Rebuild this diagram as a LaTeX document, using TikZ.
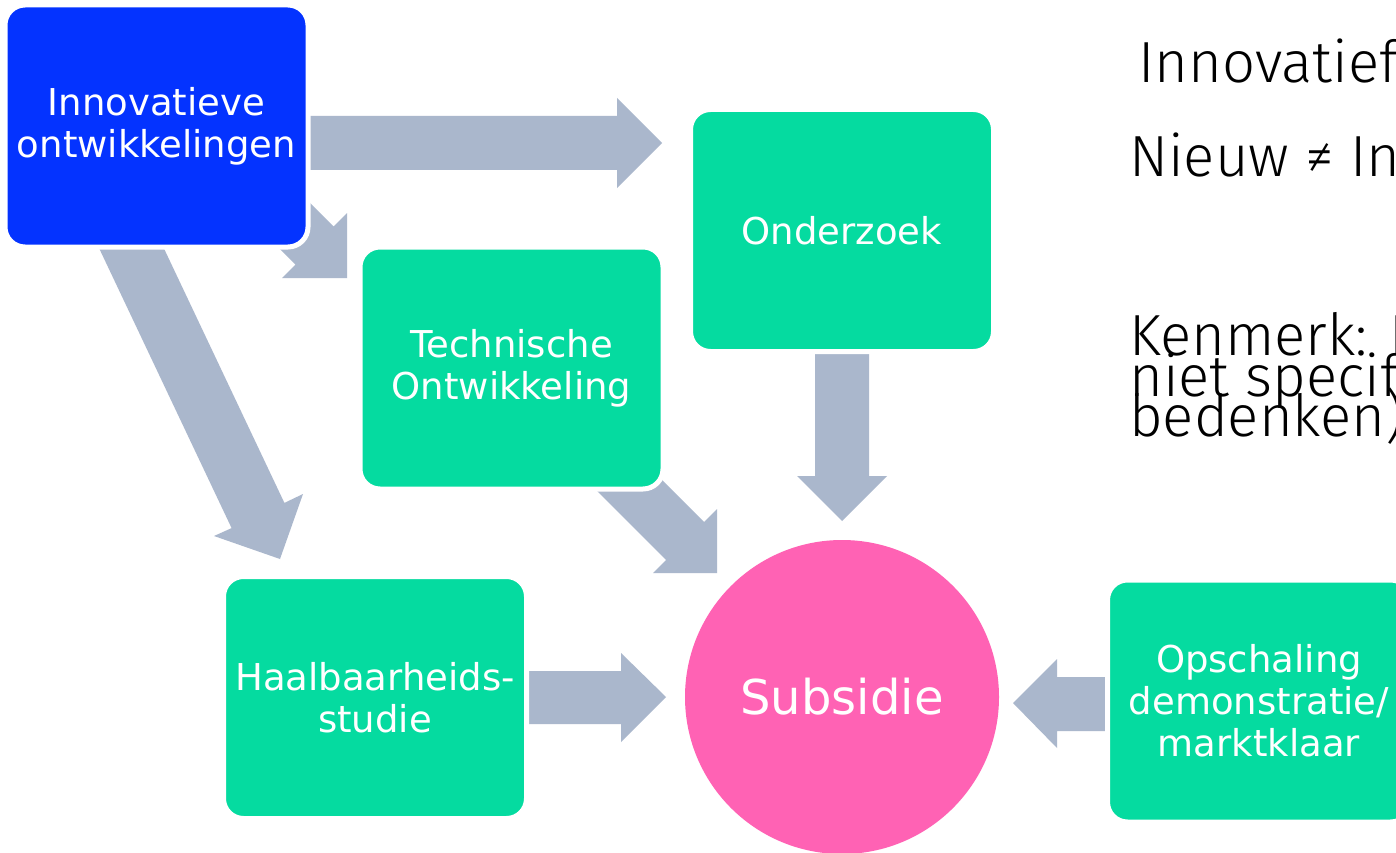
\documentclass[tikz,border=0pt]{standalone}
\usepackage{fontspec}
\setmainfont{DejaVu Sans}
\newfontfamily\lightfont{Fira Sans Light}
\definecolor{innoblue}{HTML}{0433FF}
\definecolor{boxgreen}{HTML}{05DBA0}
\definecolor{subpink}{HTML}{FF62B4}
\definecolor{arrgray}{HTML}{AAB7CC}
\tikzset{
  box/.style={rectangle, rounded corners=20pt, draw=white, line width=5pt,
    minimum width=303pt, minimum height=242pt, align=center, text=white,
    inner sep=0pt, font=\fontsize{37}{42}\selectfont},
  bigarrow/.style={fill=arrgray},
  sidetext/.style={anchor=base west, inner sep=0pt, font=\lightfont\fontsize{58}{40}\selectfont}
}
\begin{document}
\begin{tikzpicture}[x=1pt,y=-1pt]
\useasboundingbox (0,0) rectangle (1396,853);
\clip (0,0) rectangle (1396,853);
\fill[white] (0,0) rectangle (1396,853);
% block arrows
\fill[bigarrow] (300,116) -- (617,116) -- (617,98) -- (662,143) -- (617,188) -- (617,170) -- (300,170) -- cycle;
\fill[bigarrow] (299,192) -- (333.6,226.4) -- (347,213) -- (347,278) -- (282,278) -- (295.4,264.6) -- (261,230) -- cycle;
\fill[bigarrow] (146.4,211.4) -- (284.4,502.9) -- (303,494) -- (280,559) -- (214,536) -- (231.6,528.1) -- (93.6,236.6) -- cycle;
\fill[bigarrow] (815,345) -- (869,345) -- (869,476) -- (887,476) -- (842,521) -- (797,476) -- (815,476) -- cycle;
\fill[bigarrow] (629,447) -- (704,522) -- (717,509) -- (717,573) -- (653,573) -- (666,560) -- (591,485) -- cycle;
\fill[bigarrow] (520,671) -- (621,671) -- (621,653) -- (666,697) -- (621,742) -- (621,724) -- (520,724) -- cycle;
\fill[bigarrow] (1114,677) -- (1057,677) -- (1057,659) -- (1013,703) -- (1057,748) -- (1057,731) -- (1114,731) -- cycle;
% nodes
\node[box, fill=innoblue] (inno) at (156.5,126) {Innovatieve\\ontwikkelingen};
\node[box, fill=boxgreen] (onder) at (842,230.5) {Onderzoek};
\node[box, fill=boxgreen] (tech) at (511.5,368) {Technische\\Ontwikkeling};
\node[box, fill=boxgreen] (haal) at (375,697.5) {Haalbaarheids-\\studie};
\node[box, fill=boxgreen] (opsch) at (1259,701) {Opschaling\\demonstratie/\\marktklaar};
\node[circle, fill=subpink, minimum size=314pt, inner sep=0pt, text=white,
  font=\fontsize{48}{54}\selectfont] (sub) at (842,697) {Subsidie};
% side text
\node[sidetext] (t1) at (1138,83) {Innovatief};
\node[sidetext] (t2) at (1129,176) {Nieuw ≠ In};
\node[sidetext] (t3) at (1129,355) {Kenmerk: I};
\node[sidetext] (t4) at (1129,396) {niet specif};
\node[sidetext] (t5) at (1129,436) {bedenken)};
\end{tikzpicture}
\end{document}
